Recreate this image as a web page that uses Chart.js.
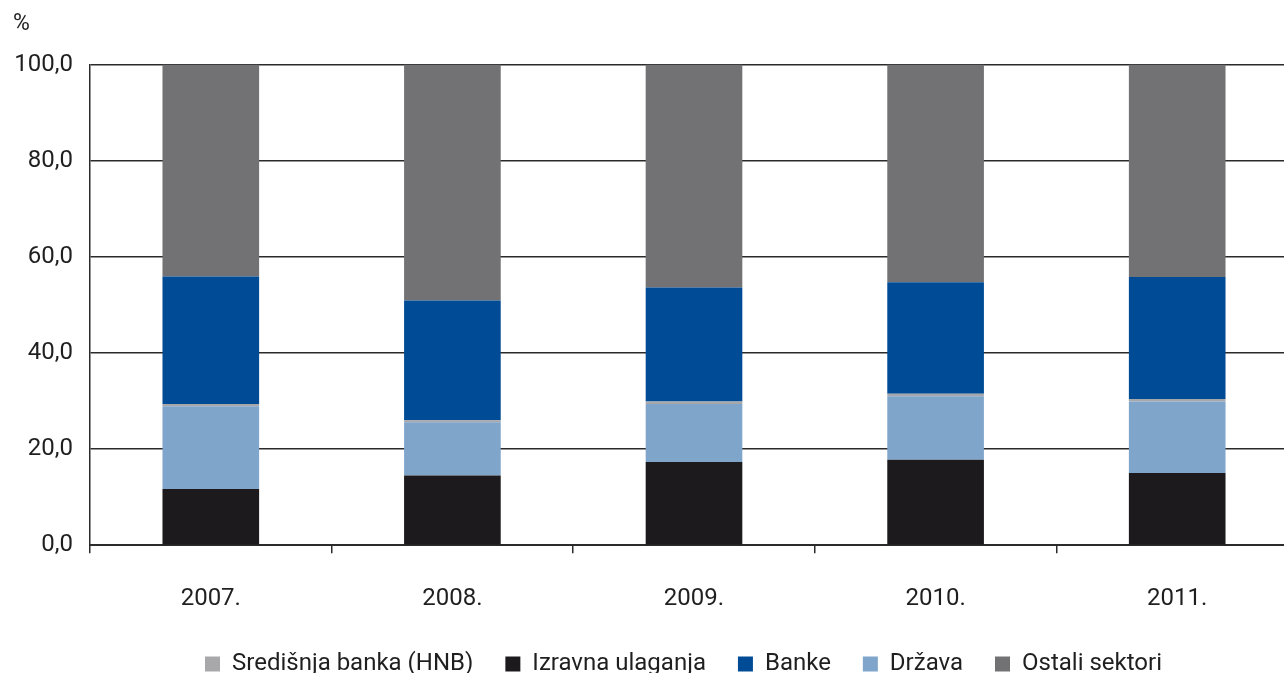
<!DOCTYPE html>
<html>
<head>
<meta charset="utf-8">
<script src="https://cdn.jsdelivr.net/npm/chart.js@4.4.1/dist/chart.umd.min.js"></script>
<style>
  html, body { margin: 0; padding: 0; background: #fff; overflow: hidden; }
  #wrap { width: 1298px; height: 673px; position: relative; }
</style>
</head>
<body>
<div id="wrap"><canvas id="chart"></canvas></div>
<script>
// Categories and series (percent shares)
const YEARS = ['2007.', '2008.', '2009.', '2010.', '2011.'];
const IZRAVNA = [11.7, 14.5, 17.3, 17.8, 15.0];
const DRZAVA  = [17.2, 11.1, 12.1, 13.2, 14.9];
const HNB     = [0.5, 0.4, 0.5, 0.5, 0.5];
const BANKE   = [26.5, 24.9, 23.7, 23.2, 25.4];
const OSTALI  = [44.1, 49.1, 46.4, 45.3, 44.2];

const LEGEND_ORDER = ['Središnja banka (HNB)', 'Izravna ulaganja', 'Banke', 'Država', 'Ostali sektori'];

const FONT = 'Roboto, "Liberation Sans", sans-serif';
const INK = '#1f1f1f';
const LINE = '#2b2b2b';

// nudge the legend after layout (reference legend sits right of centre)
const LEGEND_DX = 28;
const LEGEND_DY = -24;

function ds(label, data, color) {
  return {
    label,
    data,
    backgroundColor: color,
    borderWidth: 0,
    barPercentage: 0.4,
    categoryPercentage: 1.0,
  };
}

const legendShift = {
  id: 'legendShift',
  afterLayout(chart) {
    const lg = chart.legend;
    lg.left += LEGEND_DX; lg.right += LEGEND_DX;
    lg.top += LEGEND_DY; lg.bottom += LEGEND_DY;
  },
};

new Chart(document.getElementById('chart'), {
  type: 'bar',
  data: {
    labels: YEARS,
    datasets: [
      ds('Izravna ulaganja', IZRAVNA, '#1c1a1c'),
      ds('Država', DRZAVA, '#7fa5cb'),
      ds('Središnja banka (HNB)', HNB, '#a8a8aa'),
      ds('Banke', BANKE, '#004b95'),
      ds('Ostali sektori', OSTALI, '#727274'),
    ],
  },
  plugins: [legendShift],
  options: {
    responsive: true,
    maintainAspectRatio: false,
    animation: false,
    layout: { padding: { left: 13, right: 0, top: 10, bottom: -37 } },
    plugins: {
      title: {
        display: true,
        text: '%',
        align: 'start',
        color: INK,
        font: { family: FONT, size: 23, weight: 'normal' },
        padding: { top: 0, bottom: 27 },
      },
      legend: {
        position: 'bottom',
        labels: {
          color: INK,
          font: { family: FONT, size: 24 },
          boxWidth: 15,
          boxHeight: 15,
          padding: 32,
          sort: (a, b) => LEGEND_ORDER.indexOf(a.text) - LEGEND_ORDER.indexOf(b.text),
        },
      },
      tooltip: { enabled: false },
    },
    scales: {
      x: {
        stacked: true,
        offset: true,
        grid: {
          offset: true,
          drawOnChartArea: false,
          drawTicks: true,
          tickLength: 8,
          color: LINE,
          lineWidth: 1.5,
        },
        border: { color: LINE, width: 2 },
        ticks: { color: INK, font: { family: FONT, size: 24 }, padding: 31 },
      },
      y: {
        stacked: true,
        min: 0,
        max: 100,
        afterFit: scale => { scale.width = 77; },
        grid: { color: LINE, lineWidth: 1.5, drawTicks: false },
        border: { color: LINE, width: 1.5 },
        ticks: {
          stepSize: 20,
          color: INK,
          padding: 17,
          font: { family: FONT, size: 24 },
          callback: v => v.toFixed(1).replace('.', ','),
        },
      },
    },
  },
});
</script>
</body>
</html>
